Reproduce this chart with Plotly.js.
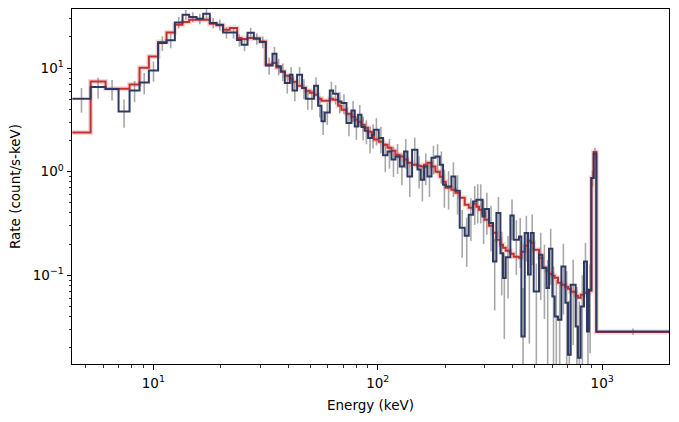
<!DOCTYPE html>
<html>
<head>
<meta charset="utf-8">
<script src="https://cdn.plot.ly/plotly-3.0.1.min.js"></script>
<style>html,body{margin:0;padding:0;background:#fff;}#chart{width:679px;height:422px;}</style>
</head>
<body>
<div id="chart"></div>
<script>
// Energy bin edges (keV)
const binEdges = [4.356, 5.253, 6.125, 6.998, 7.834, 8.679, 9.550, 10.50, 11.45, 12.47,
  13.49, 14.44, 15.57, 16.67, 17.85, 19.12, 20.46, 21.91, 23.62, 24.71,
  26.28, 28.03, 29.81, 31.70, 33.95, 35.37, 36.97, 38.52, 40.55, 41.69,
  43.70, 46.00, 47.78, 49.78, 52.02, 54.20, 56.13, 58.06, 61.11, 63.22,
  66.54, 68.91, 72.53, 76.34, 78.97, 81.69, 84.60, 87.51, 90.52, 94.32,
  96.27, 101.0, 105.6, 110.5, 115.1, 119.9, 125.3, 131.0, 135.6, 142.2,
  150.3, 155.4, 160.8, 166.5, 173.5, 180.7, 188.9, 195.4, 200.9, 212.9,
  221.8, 231.8, 244.0, 254.3, 265.8, 275.2, 282.6, 292.7, 299.6, 313.1,
  326.2, 337.8, 352.0, 361.4, 371.6, 389.9, 403.3, 425.9, 436.5, 451.6,
  467.1, 480.3, 495.3, 523.0, 541.6, 564.3, 579.4, 600.0, 614.3, 635.4,
  658.0, 685.5, 704.1, 723.8, 761.9, 780.0, 802.0, 829.6, 855.4, 873.1,
  894.9, 916.2, 942.1, 2000];

// Observed rate (count/s-keV)
const dataRate = [5.06, 6.56, 6.27, 3.81, 6.08, 7.26, 9.48, 17.4, 18.5, 27.5,
  32.7, 31.0, 29.9, 33.4, 27.2, 26.2, 22.0, 22.0, 18.6, 16.8,
  21.9, 19.2, 17.8, 10.6, 13.7, 10.4, 9.27, 7.17, 8.62, 6.08,
  8.62, 6.41, 5.06, 5.06, 6.75, 4.33, 3.06, 3.73, 6.08, 5.65,
  4.76, 4.60, 2.95, 3.90, 2.73, 3.55, 2.70, 2.49, 2.11, 2.27,
  2.54, 2.11, 1.44, 1.57, 1.31, 1.40, 1.12, 1.57, 0.901, 1.63,
  1.05, 0.837, 1.12, 0.901, 1.36, 1.40, 1.17, 0.749, 0.722, 0.901,
  0.656, 0.288, 0.241, 0.385, 0.517, 0.537, 0.537, 0.371, 0.437, 0.320,
  0.136, 0.400, 0.164, 0.0944, 0.150, 0.379, 0.221, 0.238, 0.0258, 0.256,
  0.102, 0.256, 0.0701, 0.158, 0.118, 0.0756, 0.181, 0.0627, 0.0402, 0.0374,
  0.122, 0.0545, 0.0172, 0.0813, 0.0322, 0.0161, 0.0503, 0.136, 0.0288, 0.0728,
  0.870, 1.50, 0.0288];

// Symmetric rate uncertainty
const dataErr = [1.35, 1.5, 1.4, 1.15, 1.4, 1.7, 2.1, 2.8, 3.0, 3.5,
  3.5, 3.5, 3.5, 3.8, 3.2, 3.2, 2.8, 2.8, 2.5, 2.3,
  2.5, 2.4, 2.3, 2.0, 2.3, 1.9, 1.8, 1.5, 1.6, 1.3,
  1.6, 1.4, 1.1, 1.1, 1.4, 1.0, 0.8, 0.9, 1.3, 1.2,
  1.1, 1.0, 0.75, 0.9, 0.7, 0.85, 0.7, 0.65, 0.6, 0.6,
  0.75, 0.6, 0.45, 0.5, 0.42, 0.45, 0.38, 0.5, 0.33, 0.5,
  0.36, 0.32, 0.38, 0.33, 0.42, 0.44, 0.4, 0.3, 0.29, 0.33,
  0.27, 0.14, 0.12, 0.17, 0.21, 0.22, 0.22, 0.17, 0.19, 0.15,
  0.09, 0.17, 0.1, 0.07, 0.09, 0.16, 0.12, 0.12, 0.05, 0.12,
  0.08, 0.13, 0.06, 0.1, 0.08, 0.065, 0.1, 0.06, 0.05, 0.045,
  0.08, 0.055, 0.04, 0.06, 0.045, 0.04, 0.05, 0.07, 0.04, 0.055,
  0.15, 0.2, 0.002];

// Model rate (count/s-keV)
const modelRate = [2.39, 7.43, 6.31, 6.31, 6.95, 10.07, 12.94, 17.8, 22.0, 26.2,
  27.8, 29.2, 29.2, 29.2, 26.7, 25.8, 23.4, 24.3, 19.5, 19.0,
  19.5, 19.4, 18.0, 10.8, 11.2, 10.1, 9.21, 8.43, 7.88, 7.38,
  6.75, 6.45, 6.04, 5.78, 5.53, 5.06, 4.84, 4.84, 5.06, 4.95,
  4.33, 3.96, 3.63, 3.39, 3.17, 3.03, 2.84, 2.66, 2.43, 2.33,
  2.04, 1.95, 1.82, 1.70, 1.59, 1.46, 1.40, 1.31, 1.22, 1.17,
  1.14, 1.12, 1.17, 1.22, 1.12, 1.00, 0.895, 0.801, 0.701, 0.671,
  0.627, 0.562, 0.481, 0.450, 0.491, 0.460, 0.430, 0.402, 0.345, 0.301,
  0.258, 0.221, 0.198, 0.185, 0.173, 0.162, 0.151, 0.148, 0.169, 0.193,
  0.216, 0.207, 0.177, 0.148, 0.119, 0.111, 0.104, 0.0993, 0.0950, 0.0850,
  0.0813, 0.0778, 0.0744, 0.0697, 0.0637, 0.0610, 0.0651, 0.0681, 0.0697, 0.0712,
  0.870, 1.55, 0.0285];

const xTickVals = [10, 100, 1000];
const xTickText = ['10<sup>1</sup>', '10<sup>2</sup>', '10<sup>3</sup>'];
const yTickVals = [0.1, 1, 10];
const yTickText = ['10<sup>\u22121</sup>', '10<sup>0</sup>', '10<sup>1</sup>'];

const centers = dataRate.map((_, i) => Math.sqrt(binEdges[i] * binEdges[i + 1]));
const stepY = arr => arr.concat([arr[arr.length - 1]]);

function minorVals(lo, hi) {
  const out = [];
  for (let p = lo; p <= hi; p++) {
    for (let m = 2; m <= 9; m++) out.push(m * Math.pow(10, p));
  }
  return out;
}

const RED = '#c4302f';
const NAVY = '#2f3a64';

const traces = [
  {
    x: centers, y: dataRate, type: 'scatter', mode: 'markers',
    marker: {size: 1, color: 'rgba(0,0,0,0)'},
    error_y: {type: 'data', array: dataErr, visible: true, color: '#a8a8a8', thickness: 1.6, width: 0},
    hoverinfo: 'skip', showlegend: false
  },
  {
    x: binEdges, y: stepY(modelRate), type: 'scatter', mode: 'lines',
    line: {shape: 'hv', color: 'rgba(210,80,80,0.22)', width: 5},
    hoverinfo: 'skip', showlegend: false
  },
  {
    x: binEdges, y: stepY(modelRate), type: 'scatter', mode: 'lines',
    line: {shape: 'hv', color: RED, width: 2}, showlegend: false
  },
  {
    x: binEdges, y: stepY(dataRate), type: 'scatter', mode: 'lines',
    line: {shape: 'hv', color: NAVY, width: 2}, showlegend: false
  }
];

const axisCommon = {
  type: 'log', showgrid: false, zeroline: false,
  showline: true, mirror: true, linecolor: '#000', linewidth: 1,
  ticks: 'outside', ticklen: 4.5, tickwidth: 1, tickcolor: '#000',
  tickmode: 'array', tickfont: {family: 'DejaVu Sans', size: 13.5, color: '#000'}
};

const layout = {
  width: 679, height: 422,
  margin: {l: 72, r: 10, t: 9, b: 58},
  paper_bgcolor: '#fff', plot_bgcolor: '#fff',
  font: {family: 'DejaVu Sans', color: '#000'},
  xaxis: Object.assign({}, axisCommon, {
    range: [Math.log10(4.34), Math.log10(1985)],
    tickvals: xTickVals, ticktext: xTickText,
    ticklabelstandoff: 2,
    minor: {tickmode: 'array', tickvals: minorVals(0, 3), ticks: 'outside', ticklen: 2.5, tickwidth: 0.8, tickcolor: '#000', showgrid: false},
    title: {text: 'Energy (keV)', font: {family: 'DejaVu Sans', size: 13.5, color: '#000'}, standoff: 10}
  }),
  yaxis: Object.assign({}, axisCommon, {
    range: [-1.854, 1.569],
    tickvals: yTickVals, ticktext: yTickText,
    minor: {tickmode: 'array', tickvals: minorVals(-2, 1), ticks: 'outside', ticklen: 2.5, tickwidth: 0.8, tickcolor: '#000', showgrid: false},
    title: {text: 'Rate (count/s-keV)', font: {family: 'DejaVu Sans', size: 13.5, color: '#000'}, standoff: 8}
  })
};

Plotly.newPlot('chart', traces, layout, {displayModeBar: false, staticPlot: true});
</script>
</body>
</html>
